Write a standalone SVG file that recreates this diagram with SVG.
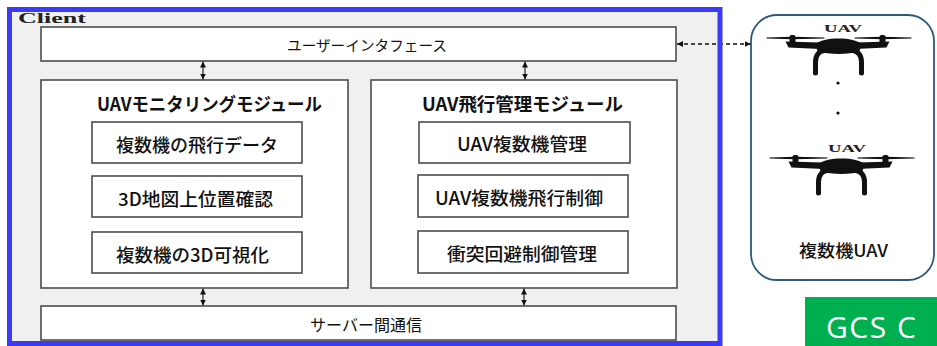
<svg xmlns="http://www.w3.org/2000/svg" xmlns:xlink="http://www.w3.org/1999/xlink" width="937" height="346" viewBox="0 0 937 346">
  <style>
    .box { fill: #ffffff; stroke: #4d4d4d; stroke-width: 1.6; }
    .jp { font-family: "Noto Sans CJK JP", "Noto Sans", sans-serif; fill: #111111; text-anchor: middle; }
    .item { font-size: 18px; font-weight: 500; }
    .title { font-size: 18px; font-weight: bold; }
    .bar { font-size: 14.5px; }
    .link { stroke: #222222; stroke-width: 1.2; fill: none; }
    .dash { stroke: #111111; stroke-width: 1.5; fill: none; stroke-dasharray: 4 3; }
    .uavtag { font-family: "Liberation Serif", serif; font-weight: bold; font-size: 11px; fill: #222222; text-anchor: middle; }
  </style>
  <defs>
    <marker id="head" viewBox="0 0 10 10" refX="10" refY="5" markerUnits="userSpaceOnUse" markerWidth="6" markerHeight="7" orient="auto-start-reverse">
      <path d="M0,0 L10,5 L0,10 z" fill="#111111"/>
    </marker>
    <!-- quadcopter silhouette, origin at the rotor plane centre -->
    <g id="drone">
      <path d="M-72,-0.5 L-46,-1.3 L-14,-0.5 L-14,0.6 L-46,1.3 L-72,0.5 z" fill="#111"/>
      <path d="M16,-0.5 L44,-1.3 L73,-0.5 L73,0.5 L44,1.3 L16,0.6 z" fill="#111"/>
      <rect x="-49" y="-3" width="6" height="9" rx="2" fill="#111"/>
      <rect x="41" y="-3" width="6" height="9" rx="2" fill="#111"/>
      <path d="M-53,3.5 L-20,4.5 L-18,11 L-50,9.5 z" fill="#111"/>
      <path d="M51,3.5 L18,4.5 L16,11 L48,9.5 z" fill="#111"/>
      <path d="M-23,6 C-16,-1.5 16,-1.5 23,6 L21,13 C10,17 -10,17 -21,13 z" fill="#111"/>
      <path d="M-12,12 C-20,13 -23,17 -23,24 L-23,35" stroke="#111" stroke-width="5" fill="none" stroke-linecap="round"/>
      <path d="M12,12 C20,13 23,17 23,24 L23,35" stroke="#111" stroke-width="5" fill="none" stroke-linecap="round"/>
    </g>
  </defs>

  <!-- client frame background -->
  <rect x="9.5" y="9.5" width="710.5" height="334" fill="#f0f0f0"/>
  <text x="18" y="23" font-family="Liberation Serif, serif" font-weight="bold" font-size="15" fill="#222" textLength="68" lengthAdjust="spacingAndGlyphs">Client</text>

  <g id="user-interface">
    <rect class="box" x="41" y="27" width="635" height="34"/>
    <text class="jp bar" x="367" y="50.5" textLength="160" lengthAdjust="spacingAndGlyphs">ユーザーインタフェース</text>
  </g>

  <g id="monitoring-module">
    <rect class="box" x="41" y="80" width="307" height="208"/>
    <text class="jp title" x="209.5" y="111" textLength="225" lengthAdjust="spacingAndGlyphs">UAVモニタリングモジュール</text>
    <g id="flight-data">
      <rect class="box" x="92" y="122" width="210" height="41"/>
      <text class="jp item" x="197" y="151.5" textLength="162" lengthAdjust="spacingAndGlyphs">複数機の飛行データ</text>
    </g>
    <g id="map-position">
      <rect class="box" x="92" y="176" width="210" height="41"/>
      <text class="jp item" x="195.5" y="205.5" textLength="155" lengthAdjust="spacingAndGlyphs">3D地図上位置確認</text>
    </g>
    <g id="visualization">
      <rect class="box" x="92" y="232" width="210" height="41"/>
      <text class="jp item" x="192.5" y="261.5" textLength="153" lengthAdjust="spacingAndGlyphs">複数機の3D可視化</text>
    </g>
  </g>

  <g id="flight-module">
    <rect class="box" x="371" y="80" width="306" height="208"/>
    <text class="jp title" x="522.5" y="111" textLength="201" lengthAdjust="spacingAndGlyphs">UAV飛行管理モジュール</text>
    <g id="fleet-management">
      <rect class="box" x="419" y="122" width="211" height="41"/>
      <text class="jp item" x="522" y="150.5" textLength="130" lengthAdjust="spacingAndGlyphs">UAV複数機管理</text>
    </g>
    <g id="flight-control">
      <rect class="box" x="418" y="175" width="210" height="42"/>
      <text class="jp item" x="519" y="204.5" textLength="168" lengthAdjust="spacingAndGlyphs">UAV複数機飛行制御</text>
    </g>
    <g id="collision-avoidance">
      <rect class="box" x="418" y="231" width="210" height="42"/>
      <text class="jp item" x="522" y="260.5" textLength="150" lengthAdjust="spacingAndGlyphs">衝突回避制御管理</text>
    </g>
  </g>

  <g id="server-link">
    <rect class="box" x="41" y="306" width="635" height="34"/>
    <text class="jp" x="366" y="331" font-size="16" textLength="112" lengthAdjust="spacingAndGlyphs">サーバー間通信</text>
  </g>

  <g id="uav-fleet">
    <rect x="751" y="15" width="183" height="265" rx="26" fill="#ffffff" stroke="#2c5a78" stroke-width="1.8"/>
    <text class="uavtag" x="843" y="32" textLength="38" lengthAdjust="spacingAndGlyphs">UAV</text>
    <use xlink:href="#drone" href="#drone" x="838.5" y="38"/>
    <circle cx="838" cy="83" r="1.6" fill="#111"/>
    <circle cx="838" cy="113" r="1.6" fill="#111"/>
    <text class="uavtag" x="847" y="152" textLength="38" lengthAdjust="spacingAndGlyphs">UAV</text>
    <use xlink:href="#drone" href="#drone" x="841.5" y="158"/>
    <text class="jp" x="843.5" y="257" font-size="17" font-weight="500" textLength="89" lengthAdjust="spacingAndGlyphs">複数機UAV</text>
  </g>

  <g id="connectors">
    <line class="link" x1="203" y1="61.5" x2="203" y2="79.5" marker-start="url(#head)" marker-end="url(#head)"/>
    <line class="link" x1="525" y1="61.5" x2="525" y2="79.5" marker-start="url(#head)" marker-end="url(#head)"/>
    <line class="link" x1="203" y1="288.5" x2="203" y2="305.5" marker-start="url(#head)" marker-end="url(#head)"/>
    <line class="link" x1="524" y1="288.5" x2="524" y2="305.5" marker-start="url(#head)" marker-end="url(#head)"/>
    <line class="dash" x1="677" y1="44" x2="750.5" y2="44" marker-start="url(#head)" marker-end="url(#head)"/>
  </g>

  <!-- client frame border drawn over the link crossing it -->
  <rect x="9.5" y="9.5" width="710.5" height="334" fill="none" stroke="#3b3bf7" stroke-width="5"/>

  <g id="gcs-badge">
    <rect x="805" y="297" width="132" height="49" fill="#00b050"/>
    <text x="826" y="338" font-family="Open Sans, sans-serif" font-size="30" letter-spacing="1.5" fill="#ffffff">GCS C</text>
  </g>
</svg>
